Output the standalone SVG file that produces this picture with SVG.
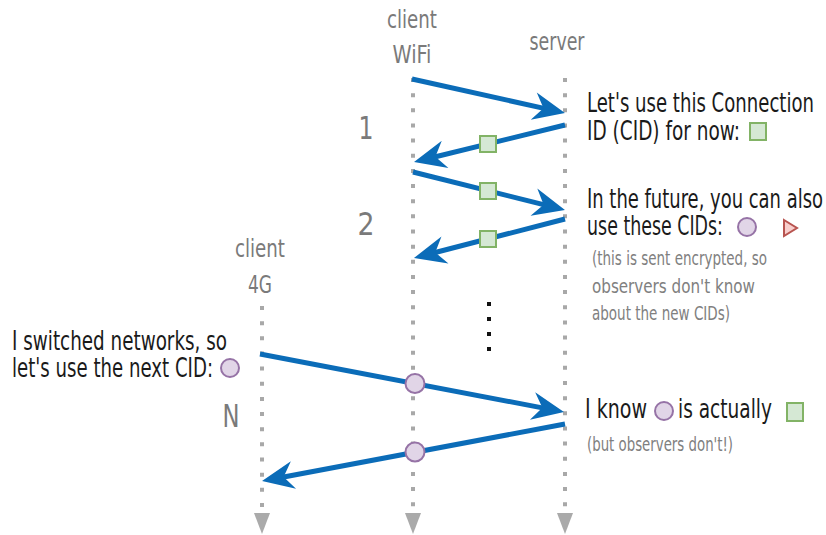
<svg xmlns="http://www.w3.org/2000/svg" width="826" height="535" viewBox="0 0 826 535">
<style>
.t{font-family:"Liberation Sans Narrow","DejaVu Sans Condensed","Liberation Sans",sans-serif;}
.lbl{font-size:24px;fill:#7a7a7a;text-anchor:middle;}
.num{font-size:32px;fill:#7a7a7a;text-anchor:middle;}
.main{font-size:26px;fill:#1a1a1a;}
.note{font-size:19px;fill:#808080;}
.life{stroke:#a8a8a8;stroke-width:4;stroke-dasharray:4 11.15;fill:none;}
.end{fill:#aaaaaa;}
.msg{stroke:#0b6cb8;stroke-width:5;fill:none;marker-end:url(#ah);}
.sq{fill:#d5e8d4;stroke:#82b366;stroke-width:2;}
.ci{fill:#e1d5e7;stroke:#9673a6;stroke-width:2;}
.tr{fill:#f8cecc;stroke:#b85450;stroke-width:2;}
</style>
<defs>
<marker id="ah" markerUnits="userSpaceOnUse" markerWidth="60" markerHeight="40" refX="-18" refY="0" orient="auto" overflow="visible" viewBox="-40 -20 60 40">
<path d="M0,0 L-32,-14 L-22,0 L-32,14 Z" fill="#0b6cb8"/>
</marker>
</defs>
<rect width="826" height="535" fill="#ffffff"/>

<g id="client-wifi">
<text class="t lbl" x="412" y="28" textLength="50" lengthAdjust="spacingAndGlyphs">client</text>
<text class="t lbl" x="412" y="63" textLength="39" lengthAdjust="spacingAndGlyphs">WiFi</text>
<line class="life" x1="413" y1="78" x2="413" y2="507"/>
<polygon class="end" points="405,513 421,513 413,534"/>
</g>
<g id="server">
<text class="t lbl" x="557" y="50" textLength="55" lengthAdjust="spacingAndGlyphs">server</text>
<line class="life" x1="565" y1="78" x2="565" y2="507"/>
<polygon class="end" points="557,513 573,513 565,534"/>
</g>
<g id="client-4g">
<text class="t lbl" x="260" y="257" textLength="50" lengthAdjust="spacingAndGlyphs">client</text>
<text class="t lbl" x="260" y="293" textLength="24" lengthAdjust="spacingAndGlyphs">4G</text>
<line class="life" x1="262" y1="306" x2="262" y2="507"/>
<polygon class="end" points="254,513 270,513 262,534"/>
</g>

<g id="step-labels">
<text class="t num" x="366" y="139" textLength="15" lengthAdjust="spacingAndGlyphs">1</text>
<text class="t num" x="366" y="235" textLength="17" lengthAdjust="spacingAndGlyphs">2</text>
<text class="t num" x="231" y="427" textLength="17" lengthAdjust="spacingAndGlyphs">N</text>
</g>

<g id="ellipsis">
<rect x="487" y="302" width="4" height="4" fill="#111"/>
<rect x="487" y="317" width="4" height="4" fill="#111"/>
<rect x="487" y="332" width="4" height="4" fill="#111"/>
<rect x="487" y="347" width="4" height="4" fill="#111"/>
</g>

<g id="connectors">
<line class="msg" x1="412" y1="79" x2="547.4" y2="109.1"/>
<line class="msg" x1="565" y1="125" x2="431.5" y2="157.7"/>
<line class="msg" x1="413" y1="172" x2="547.5" y2="205.6"/>
<line class="msg" x1="565" y1="219" x2="431.4" y2="253.5"/>
<line class="msg" x1="260" y1="354" x2="546.3" y2="408.6"/>
<line class="msg" x1="565" y1="424" x2="279.7" y2="477.7"/>
<rect class="sq" x="480" y="136" width="16" height="16"/>
<rect class="sq" x="480" y="183" width="16" height="16"/>
<rect class="sq" x="480" y="231" width="16" height="16"/>
<circle class="ci" cx="415" cy="383.5" r="9.5"/>
<circle class="ci" cx="415" cy="452" r="9.5"/>
</g>

<g id="note-1">
<text class="t main" x="587" y="112" textLength="227" lengthAdjust="spacingAndGlyphs">Let's use this Connection</text>
<text class="t main" x="587" y="140" textLength="153" lengthAdjust="spacingAndGlyphs">ID (CID) for now:</text>
<rect class="sq" x="750" y="123" width="16" height="17"/>
</g>
<g id="note-2">
<text class="t main" x="587" y="208" textLength="236" lengthAdjust="spacingAndGlyphs">In the future, you can also</text>
<text class="t main" x="587" y="235" textLength="136" lengthAdjust="spacingAndGlyphs">use these CIDs:</text>
<circle class="ci" cx="747" cy="227" r="9"/>
<polygon class="tr" points="784,220 797,228 784,236"/>
<text class="t note" x="592" y="265" textLength="175" lengthAdjust="spacingAndGlyphs">(this is sent encrypted, so</text>
<text class="t note" x="592" y="293" textLength="163" lengthAdjust="spacingAndGlyphs">observers don't know</text>
<text class="t note" x="592" y="320" textLength="138" lengthAdjust="spacingAndGlyphs">about the new CIDs)</text>
</g>
<g id="note-3">
<text class="t main" x="12" y="350" textLength="215" lengthAdjust="spacingAndGlyphs">I switched networks, so</text>
<text class="t main" x="12" y="377" textLength="201" lengthAdjust="spacingAndGlyphs">let's use the next CID:</text>
<circle class="ci" cx="230" cy="368" r="9"/>
</g>
<g id="note-4">
<text class="t main" x="585" y="418" textLength="62" lengthAdjust="spacingAndGlyphs">I know</text>
<circle class="ci" cx="664" cy="411" r="9"/>
<text class="t main" x="678" y="418" textLength="94" lengthAdjust="spacingAndGlyphs">is actually</text>
<rect class="sq" x="787" y="403" width="16" height="18"/>
<text class="t note" x="587" y="451" textLength="146" lengthAdjust="spacingAndGlyphs">(but observers don't!)</text>
</g>
</svg>
